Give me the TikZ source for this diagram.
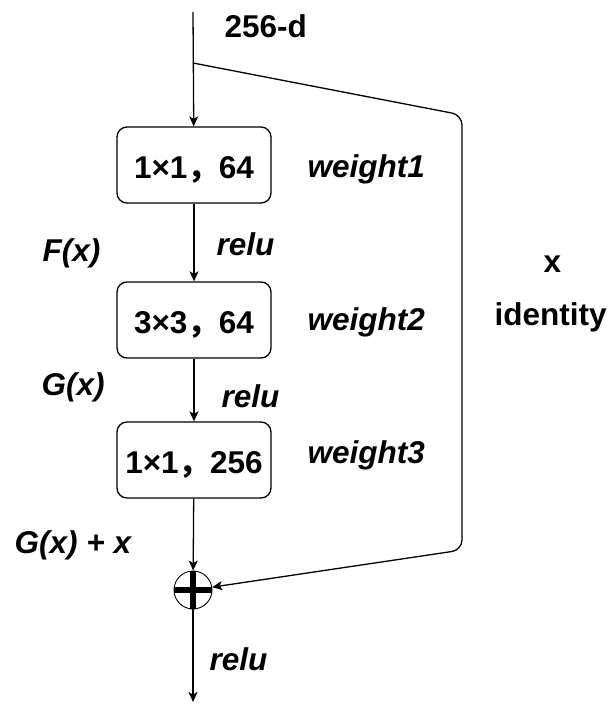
\documentclass[tikz,border=0pt]{standalone}
\usepackage{fontspec}
\setmainfont{Liberation Sans}
\newfontfamily\cjk{Noto Sans CJK SC}
\usetikzlibrary{arrows.meta}

\begin{document}
\begin{tikzpicture}[x=1pt,y=-1pt,
  font=\fontsize{31.5}{36}\selectfont\bfseries,
  line width=1.3pt,
  arr/.style={-{Stealth[length=10pt,width=9pt,inset=2.5pt]}},
  layer/.style={draw, rounded corners=10pt, minimum width=154pt, minimum height=76pt,
                inner sep=0pt, text height=27pt, text depth=0pt},
  lbl/.style={anchor=base west, inner sep=0pt},
  ilbl/.style={lbl, font=\fontsize{31.5}{36}\selectfont\bfseries\itshape}]

  \useasboundingbox (0,0) rectangle (608,704);

  % input, the three convolution layers and the sum
  \coordinate (top) at (193,12);
  \coordinate (split) at (193,63);
  \node[layer] (b1) at (194,165) {1×1{\cjk ，}64};
  \node[layer] (b2) at (194,320) {3×3{\cjk ，}64};
  \node[layer] (b3) at (194,460) {1×1{\cjk ，}256};
  \node[circle, draw, line width=0.9pt, minimum size=38pt, inner sep=0pt] (sum) at (193,590) {};
  \draw[line width=6pt] (sum.north) -- (sum.south) (sum.west) -- (sum.east);
  \coordinate (bottom) at (193,702);

  % main path
  \draw[arr] (top) -- (b1);
  \draw[arr] (b1) -- (b2);
  \draw[arr] (b2) -- (b3);
  \draw[arr] (b3) -- (sum);
  \draw[arr] (sum) -- (bottom);

  % identity shortcut
  \coordinate (c1) at (462,115);
  \coordinate (c2) at (462,550);
  \draw[arr, rounded corners=10pt] (split) -- (c1) -- (c2) -- (sum);

  % labels
  \node[lbl] (dim) at (224,37) {256-d};
  \node[ilbl] (w1) at (307,177) {weight1};
  \node[ilbl] (w2) at (307,330) {weight2};
  \node[ilbl] (w3) at (307,463) {weight3};
  \node[ilbl] (r1) at (216,255) {relu};
  \node[ilbl] (r2) at (221,407) {relu};
  \node[ilbl] (r3) at (209,670) {relu};
  \node[ilbl] (fx) at (42,261) {F(x)};
  \node[ilbl] (gx) at (41,395) {G(x)};
  \node[ilbl] (gxx) at (14,553) {G(x) + x};
  \node[lbl] (xl) at (543,272) {x};
  \node[lbl] (id) at (494,325) {identity};
\end{tikzpicture}
\end{document}
